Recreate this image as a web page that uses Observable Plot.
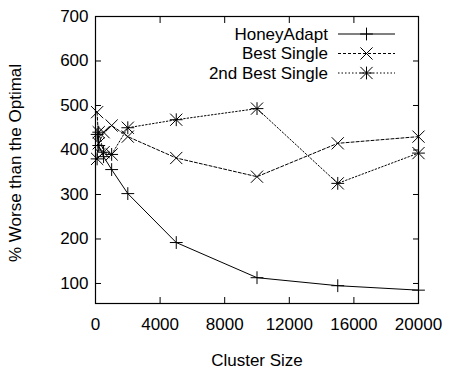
<!DOCTYPE html>
<html><head><meta charset="utf-8">
<script src="https://cdn.jsdelivr.net/npm/d3@7"></script>
<script src="https://cdn.jsdelivr.net/npm/@observablehq/plot@0.6"></script>
<style>
body{margin:0;background:#fff}
svg{font-family:"Liberation Sans",Arial,sans-serif}
</style>
</head><body><div id="c"></div>
<script>
const clusterSizes = [100, 200, 500, 1000, 2000, 5000, 10000, 15000, 20000];
const honeyAdapt   = [435, 410, 385, 356, 302, 192, 113, 95, 85];
const bestSingle   = [485, 415, 440, 455, 430, 382, 340, 415, 430];
const secondBest   = [380, 440, 395, 390, 450, 468, 493, 325, 393];
const seriesNames  = ["HoneyAdapt", "Best Single", "2nd Best Single"];
const xTicks = [0, 4000, 8000, 12000, 16000, 20000];
const yTicks = [100, 200, 300, 400, 500, 600, 700];

const mk = vals => clusterSizes.map((x, i) => ({x, y: vals[i]}));
const dHA = mk(honeyAdapt), dBS = mk(bestSingle), d2B = mk(secondBest);

const W = 449, H = 370, FS = 17;
const chart = Plot.plot({
  width: W, height: H,
  marginLeft: 95, marginRight: 31, marginTop: 16, marginBottom: 67,
  style: {fontFamily: '"Liberation Sans",Arial,sans-serif', fontSize: FS + "px", color: "#000", background: "#fff"},
  x: {domain: [0, 20000]},
  y: {domain: [55, 700]},
  marks: [
    Plot.frame({stroke: "#000", strokeWidth: 1.2}),
    Plot.axisX({ticks: xTicks, tickSize: -6, tickPadding: 20, tickFormat: d => String(d), label: null, fontSize: FS}),
    Plot.axisX({anchor: "top", ticks: xTicks, tickSize: -6, tickFormat: () => "", label: null}),
    Plot.axisY({ticks: yTicks, tickSize: -6, tickPadding: 13, tickFormat: d => String(d), label: null, fontSize: FS}),
    Plot.axisY({anchor: "right", ticks: yTicks, tickSize: -6, tickFormat: () => "", label: null}),
    Plot.line(dHA, {x: "x", y: "y", stroke: "#000", strokeWidth: 1}),
    Plot.line(dBS, {x: "x", y: "y", stroke: "#000", strokeWidth: 1, strokeDasharray: "3,2"}),
    Plot.line(d2B, {x: "x", y: "y", stroke: "#000", strokeWidth: 1, strokeDasharray: "1.5,2"}),
    Plot.dot(dHA, {x: "x", y: "y", symbol: "plus", r: 4.2, stroke: "#000", strokeWidth: 1}),
    Plot.dot(dBS, {x: "x", y: "y", symbol: "times", r: 5.6, stroke: "#000", strokeWidth: 1}),
    Plot.dot(d2B, {x: "x", y: "y", symbol: "plus", r: 4.2, stroke: "#000", strokeWidth: 1}),
    Plot.dot(d2B, {x: "x", y: "y", symbol: "times", r: 5.6, stroke: "#000", strokeWidth: 1})
  ]
});
document.getElementById("c").appendChild(chart);

const svg = d3.select(chart);
// axis titles
svg.append("text").attr("x", 257).attr("y", 366).attr("text-anchor", "middle")
  .attr("font-size", FS).attr("fill", "#000").text("Cluster Size");
svg.append("text").attr("transform", "translate(21,163) rotate(-90)").attr("text-anchor", "middle")
  .attr("font-size", FS).attr("fill", "#000").text("% Worse than the Optimal");

// legend
const sz = r => Math.PI * r * r;
const legendRows = [
  {name: seriesNames[0], dash: null, syms: [[d3.symbolPlus, 4.2]]},
  {name: seriesNames[1], dash: "3,2", syms: [[d3.symbolTimes, 5.6]]},
  {name: seriesNames[2], dash: "1.5,2", syms: [[d3.symbolPlus, 4.2], [d3.symbolTimes, 5.6]]}
];
const lg = svg.append("g");
legendRows.forEach((row, i) => {
  const y = 34 + i * 19.5;
  lg.append("text").attr("x", 328).attr("y", y).attr("dy", "0.35em").attr("text-anchor", "end")
    .attr("font-size", FS).attr("fill", "#000").text(row.name);
  lg.append("line").attr("x1", 338).attr("x2", 395).attr("y1", y).attr("y2", y)
    .attr("stroke", "#000").attr("stroke-width", 1).attr("stroke-dasharray", row.dash);
  row.syms.forEach(([t, r]) => {
    lg.append("path").attr("d", d3.symbol(t, sz(r))()).attr("transform", `translate(366.5,${y})`)
      .attr("fill", "none").attr("stroke", "#000").attr("stroke-width", 1);
  });
});
</script>
</body></html>
